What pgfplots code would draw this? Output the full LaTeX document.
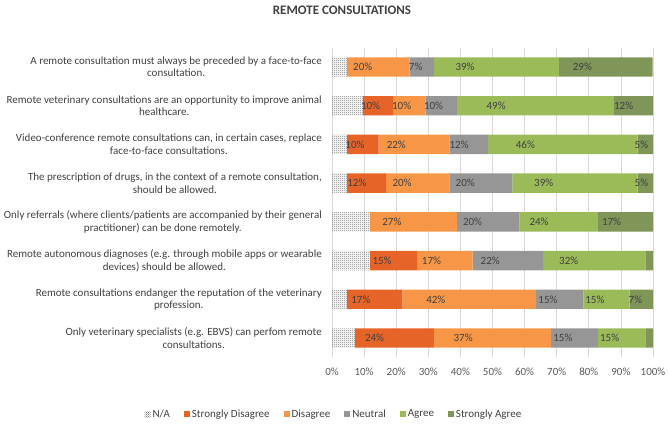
\documentclass[border=0pt]{standalone}
\usepackage{pgfplots}
\pgfplotsset{compat=1.18}
\usetikzlibrary{patterns}
\usepackage{fontspec}
\setmainfont{Carlito}

\definecolor{cNA}{RGB}{125,125,125}
\definecolor{cSD}{RGB}{230,100,40}
\definecolor{cD}{RGB}{247,150,70}
\definecolor{cN}{RGB}{150,150,150}
\definecolor{cA}{RGB}{155,187,89}
\definecolor{cSA}{RGB}{127,150,88}
\definecolor{txt}{RGB}{64,64,64}
\definecolor{ticktxt}{RGB}{89,89,89}
\definecolor{gridc}{RGB}{217,217,217}

% fine checker pattern for N/A
\pgfdeclarepatternformonly{checker}{\pgfqpoint{0pt}{0pt}}{\pgfqpoint{2pt}{2pt}}{\pgfqpoint{2pt}{2pt}}{
  \pgfpathrectangle{\pgfqpoint{0pt}{0pt}}{\pgfqpoint{1pt}{1pt}}
  \pgfpathrectangle{\pgfqpoint{1pt}{1pt}}{\pgfqpoint{1pt}{1pt}}
  \pgfusepath{fill}}

\begin{document}
\begin{tikzpicture}
\useasboundingbox (0,0) rectangle (669pt,424pt);
\node[font=\bfseries\fontsize{13}{15}\selectfont, text=txt] at (342pt,414pt) {REMOTE CONSULTATIONS};
\begin{axis}[
  at={(332pt,66.6pt)}, anchor=south west,
  scale only axis,
  width=321pt, height=309.8pt,
  xbar stacked,
  bar width=0.5,
  xmin=0, xmax=100,
  ymin=0.5, ymax=8.5,
  xtick={0,10,...,100},
  xticklabels={0\%,10\%,20\%,30\%,40\%,50\%,60\%,70\%,80\%,90\%,100\%},
  ytick={1,...,8},
  yticklabels={
    {Only veterinary specialists (e.g. EBVS) can perfom remote\\consultations.},
    {Remote consultations endanger the reputation of the veterinary\\profession.},
    {Remote autonomous diagnoses (e.g. through mobile apps or wearable\\devices) should be allowed.},
    {Only referrals (where clients/patients are accompanied by their general\\practitioner) can be done remotely.},
    {The prescription of drugs, in the context of a remote consultation,\\should be allowed.},
    {Video-conference remote consultations can, in certain cases, replace\\face-to-face consultations.},
    {Remote veterinary consultations are an opportunity to improve animal\\healthcare.},
    {A remote consultation must always be preceded by a face-to-face\\consultation.}
  },
  yticklabel style={align=center, font=\fontsize{11}{12.5}\selectfont, text=txt, inner sep=0pt, xshift=-10pt},
  xticklabel style={font=\fontsize{11}{13}\selectfont, text=ticktxt, inner sep=0pt, yshift=-10pt},
  major tick length=0pt,
  axis line style={draw=none},
  xmajorgrids,
  grid style={gridc, line width=0.8pt},
  point meta=explicit symbolic,
  nodes near coords,
  visualization depends on=rawx \as \rawx,
  every node near coord/.append style={font=\fontsize{11}{13}\selectfont, text=txt, anchor=center, shift={(axis direction cs:-\rawx/4,0)}},
  legend columns=-1,
  legend style={at={(0.006,-0.183)}, anchor=center, draw=none, fill=none,
    font=\fontsize{11}{13}\selectfont, text=txt,
    /tikz/every even column/.append style={column sep=12pt}},
  legend image code/.code={\fill[#1] (0pt,-3pt) rectangle (6pt,3pt);},
]
\addplot[pattern=checker, pattern color=cNA, draw=none, nodes near coords={}] coordinates {
  (4.7,8) [] (9.6,7) [] (4.7,6) [] (4.7,5) [] (11.9,4) [] (11.9,3) [] (4.7,2) [] (7.1,1) []
};
\addplot[fill=cSD, draw=none] coordinates {
  (0,8) [] (9.6,7) [10\%] (9.8,6) [10\%] (12.2,5) [12\%] (0,4) [] (14.8,3) [15\%] (17.2,2) [17\%] (24.6,1) [24\%]
};
\addplot[fill=cD, draw=none] coordinates {
  (19.5,8) [20\%] (10,7) [10\%] (22.1,6) [22\%] (19.7,5) [20\%] (27,4) [27\%] (17.1,3) [17\%] (41.7,2) [42\%] (36.6,1) [37\%]
};
\addplot[fill=cN, draw=none] coordinates {
  (7.5,8) [7\%] (9.7,7) [10\%] (12,6) [12\%] (19.6,5) [20\%] (19.5,4) [20\%] (22,3) [22\%] (14.7,2) [15\%] (14.5,1) [15\%]
};
\addplot[fill=cA, draw=none] coordinates {
  (39,8) [39\%] (48.9,7) [49\%] (46.6,6) [46\%] (39,5) [39\%] (24.4,4) [24\%] (31.8,3) [32\%] (14.4,2) [15\%] (14.8,1) [15\%]
};
\addplot[fill=cSA, draw=none] coordinates {
  (29.2,8) [29\%] (12.2,7) [12\%] (4.8,6) [5\%] (4.8,5) [5\%] (17.2,4) [17\%] (2.4,3) [] (7.3,2) [7\%] (2.4,1) []
};
\legend{N/A, Strongly Disagree, Disagree, Neutral, Agree, Strongly Agree}
\end{axis}
\end{tikzpicture}
\end{document}
